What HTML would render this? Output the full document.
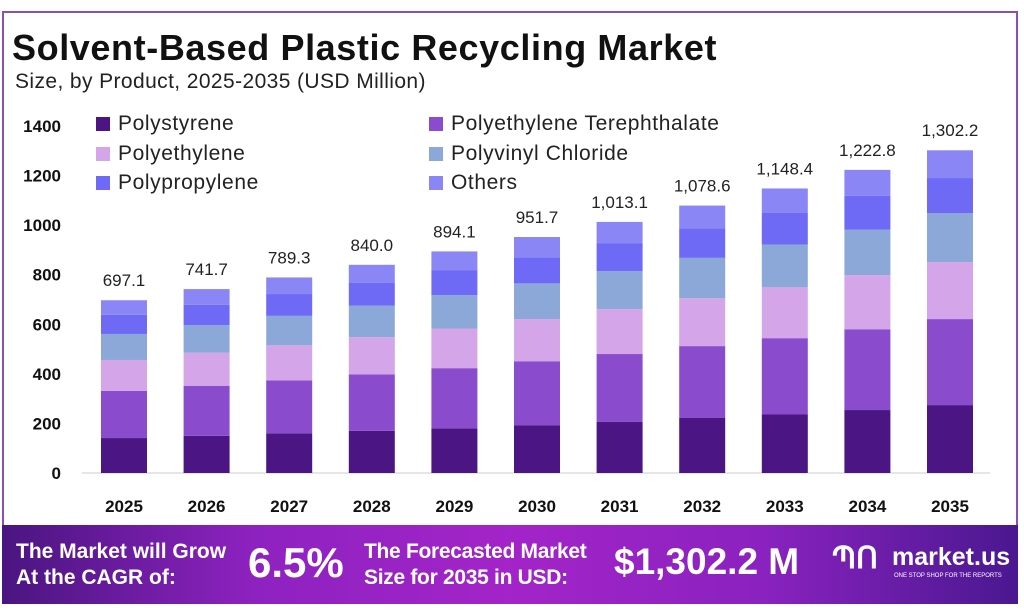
<!DOCTYPE html>
<html><head><meta charset="utf-8"><style>
body{margin:0;width:1024px;height:616px;background:#fff;font-family:"Liberation Sans",sans-serif;overflow:hidden;position:relative}
.frame{position:absolute;left:2px;top:11px;width:1016px;height:592px;border:2px solid #8a4fb0;box-sizing:border-box}
.title{position:absolute;left:12px;top:27px;font-size:36px;font-weight:bold;color:#111;letter-spacing:0.6px;white-space:nowrap}
.sub{position:absolute;left:15px;top:70px;font-size:21px;color:#222;letter-spacing:0.4px;white-space:nowrap}
.leg{position:absolute;font-size:21px;color:#222;display:flex;align-items:center;letter-spacing:0.6px;white-space:nowrap}
.leg i{display:inline-block;width:14px;height:14px;margin-right:8px}
.banner{position:absolute;left:2px;top:525px;width:1016px;height:79px;background:linear-gradient(90deg,#4a1580 0%,#8e22c0 25%,#a324c8 50%,#8a22bf 75%,#4a1890 100%);color:#fff}
.banner div{position:absolute;font-weight:bold;white-space:nowrap}
</style></head><body>
<div class="frame"></div>
<div class="title">Solvent-Based Plastic Recycling Market</div>
<div class="sub">Size, by Product, 2025-2035 (USD Million)</div>
<div class="leg" style="left:96px;top:112px"><i style="background:#4b1684"></i>Polystyrene</div>
<div class="leg" style="left:96px;top:142px"><i style="background:#d4a5e8"></i>Polyethylene</div>
<div class="leg" style="left:96px;top:171px"><i style="background:#6e6af5"></i>Polypropylene</div>
<div class="leg" style="left:429px;top:112px"><i style="background:#8a4ccc"></i>Polyethylene Terephthalate</div>
<div class="leg" style="left:429px;top:142px"><i style="background:#8ca8d8"></i>Polyvinyl Chloride</div>
<div class="leg" style="left:429px;top:171px"><i style="background:#8a86f5"></i>Others</div>
<svg id="chart" width="1024" height="525" style="position:absolute;left:0;top:0"></svg>
<div class="banner">
<div style="left:14px;top:14px;font-size:21px;line-height:26px">The Market will Grow<br>At the CAGR of:</div>
<div style="left:246px;top:14px;font-size:42px">6.5%</div>
<div style="left:362px;top:14px;font-size:21px;line-height:26px;letter-spacing:-0.3px">The Forecasted Market<br>Size for 2035 in USD:</div>
<div style="left:612px;top:16px;font-size:37px">$1,302.2 M</div>
<div style="left:830px;top:16px;font-size:30px">ՊՈ</div>
<div style="left:890px;top:18px;font-size:25px">market.us</div>
<div style="left:892px;top:48px;font-size:6px;font-weight:normal">ONE STOP SHOP FOR THE REPORTS</div>
</div>
<script>
const years=["2025","2026","2027","2028","2029","2030","2031","2032","2033","2034","2035"];
const totals=[697.1,741.7,789.3,840.0,894.1,951.7,1013.1,1078.6,1148.4,1222.8,1302.2];
const totalLabels=["697.1","741.7","789.3","840.0","894.1","951.7","1,013.1","1,078.6","1,148.4","1,222.8","1,302.2"];
const polystyrene=[141,150,160,170,180,193,207,222,236,254,274];
const pet=[190,202,214,228,243,258,273,290,308,326,347];
const polyethylene=[125,133,141,150,160,170,181,193,205,218,230];
const pvc=[105,112,119,127,135,144,153,163,173,184,198];
const polypropylene=[77,82,88,93,99,105,112,119,127,136,141];
const others=[59,63,67,72,77,82,87,92,99,105,112];
const yTicks=[0,200,400,600,800,1000,1200,1400];
const series=[["polystyrene",polystyrene,"#4b1684"],["pet",pet,"#8a4ccc"],["polyethylene",polyethylene,"#d4a5e8"],["pvc",pvc,"#8ca8d8"],["polypropylene",polypropylene,"#6e6af5"],["others",others,"#8a86f5"]];
const NS="http://www.w3.org/2000/svg",svg=document.getElementById("chart");
const y0=473,k=347/1400;
const y=v=>y0-v*k;
const x=i=>124+i*82.6;
const bw=46;
function mk(t,a){const e=document.createElementNS(NS,t);for(const n in a)e.setAttribute(n,a[n]);svg.appendChild(e);return e;}
yTicks.forEach(v=>{const t=mk("text",{x:61,y:y(v)+6,"text-anchor":"end","font-size":17,"font-weight":"bold",fill:"#111"});t.textContent=v;

});
const ax=mk("line",{x1:82,x2:990,y1:y0,y2:y0,stroke:"#ccc","stroke-width":1});


years.forEach((yr,i)=>{let acc=0;
series.forEach(([n,arr,c])=>{const v=arr[i];const r=mk("rect",{x:x(i)-bw/2,y:y(acc+v),width:bw,height:v*k,fill:c});


acc+=v;});
const l=mk("text",{x:x(i),y:y(totals[i])-14,"text-anchor":"middle","font-size":17,fill:"#222"});l.textContent=totalLabels[i];


const t=mk("text",{x:x(i),y:512,"text-anchor":"middle","font-size":17,"font-weight":"bold",fill:"#111"});t.textContent=yr;

});
</script>
</body></html>
